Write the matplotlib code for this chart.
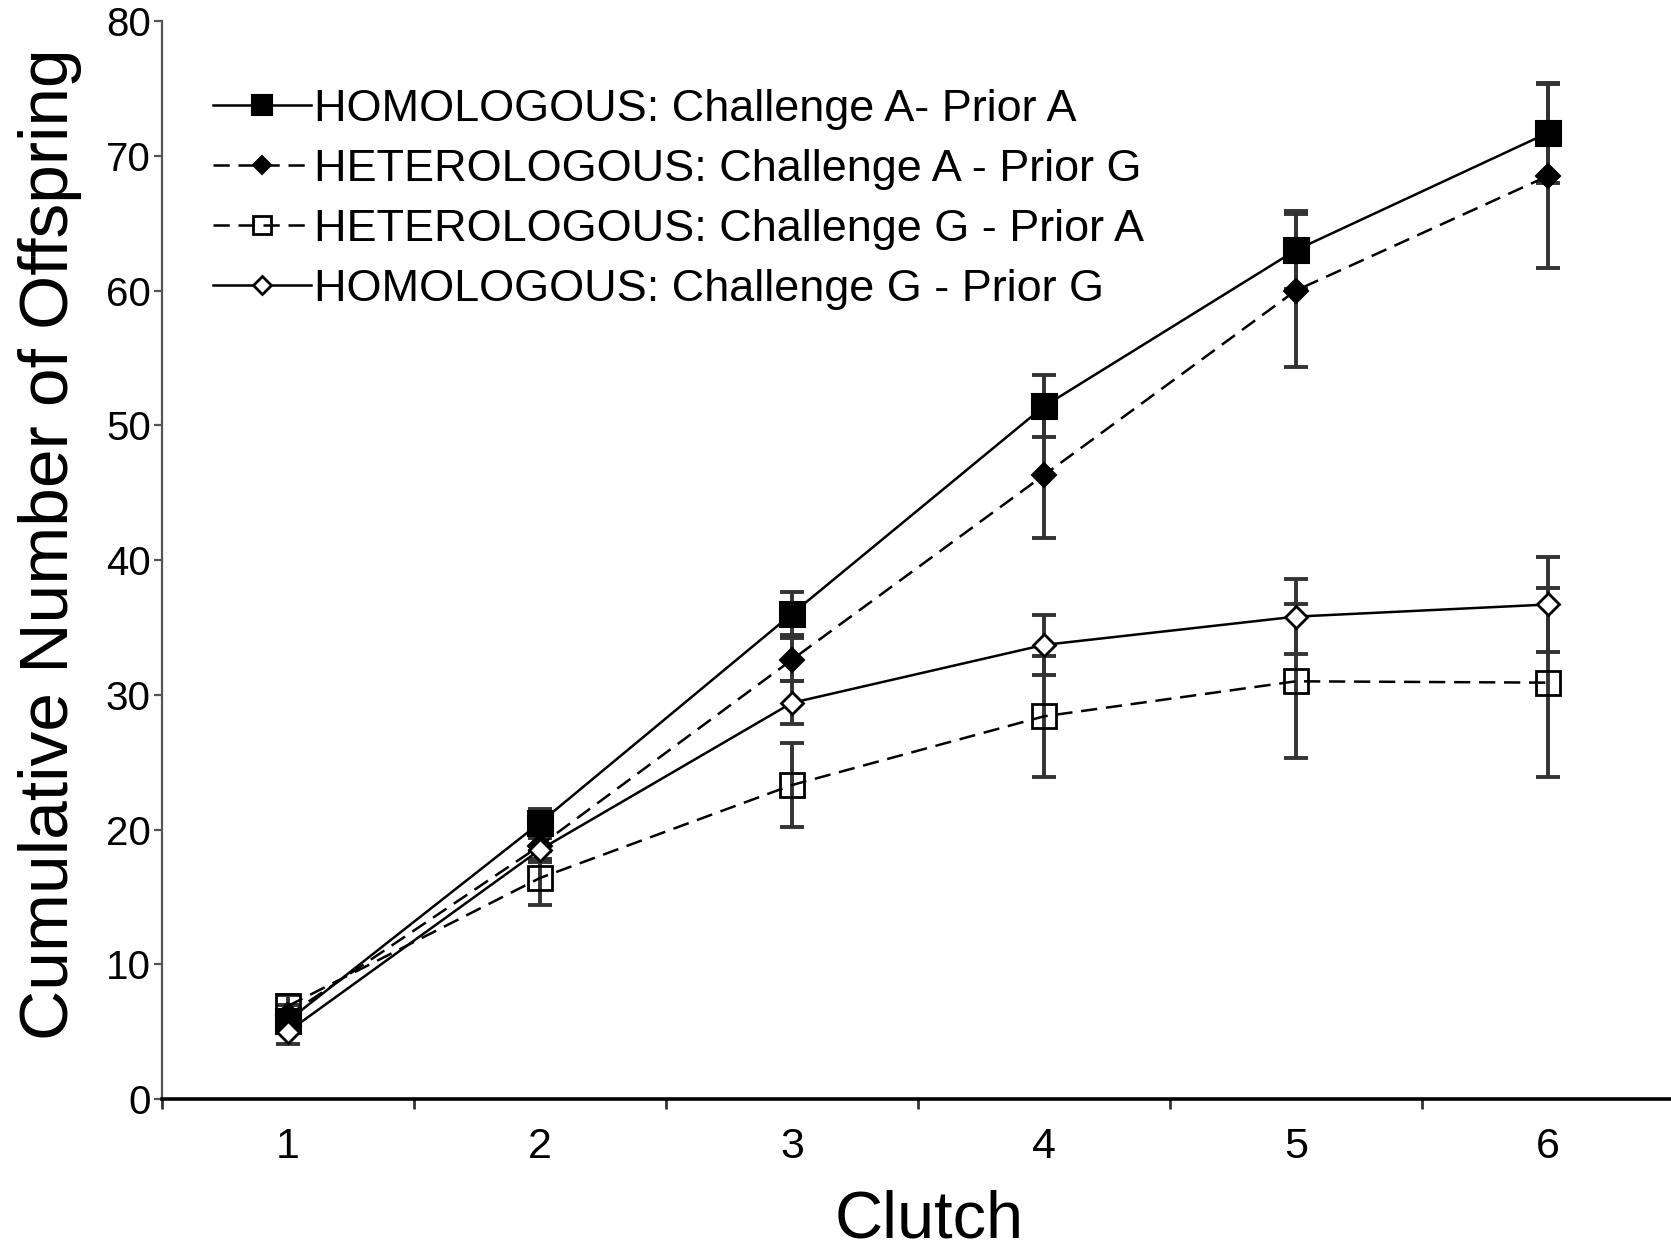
import matplotlib
matplotlib.use("Agg")
import matplotlib.pyplot as plt
from matplotlib import font_manager
from matplotlib.ticker import FixedLocator

# Clutch index and cumulative offspring (mean +/- error) per treatment
clutch = [1, 2, 3, 4, 5, 6]

homo_aa = [5.8, 20.5, 36.0, 51.4, 63.0, 71.7]
homo_aa_err = [0.8, 1.0, 1.6, 2.3, 2.9, 3.7]

hetero_ag = [6.2, 18.8, 32.6, 46.3, 60.0, 68.5]
hetero_ag_err = [0.8, 1.0, 1.6, 4.7, 5.7, 6.8]

hetero_ga = [6.9, 16.4, 23.3, 28.4, 31.0, 30.9]
hetero_ga_err = [0.8, 2.0, 3.1, 4.5, 5.7, 7.0]

homo_gg = [5.0, 18.5, 29.4, 33.7, 35.8, 36.7]
homo_gg_err = [0.9, 0.9, 1.6, 2.2, 2.8, 3.5]

series_labels = [
    "HOMOLOGOUS: Challenge A- Prior A",
    "HETEROLOGOUS: Challenge A - Prior G",
    "HETEROLOGOUS: Challenge G - Prior A",
    "HOMOLOGOUS: Challenge G - Prior G",
]
y_ticks = [0, 10, 20, 30, 40, 50, 60, 70, 80]
x_label = "Clutch"
y_label = "Cumulative Number of Offspring"

installed = {f.name for f in font_manager.fontManager.ttflist}
base_font = "Liberation Sans" if "Liberation Sans" in installed else "DejaVu Sans"
narrow_font = "Liberation Sans Narrow" if "Liberation Sans Narrow" in installed else None
plt.rcParams["font.family"] = [base_font, "DejaVu Sans"]

fig = plt.figure(figsize=(16.71, 12.53), dpi=100)
ax = fig.add_axes([0.0969, 0.1229, 0.9048, 0.8603])

dash = (0, (6.5, 3.5))
err_color = "#333333"
series = [
    (homo_aa, homo_aa_err, dict(ls="-", marker="s", ms=18, mfc="black", mec="black", mew=1.5)),
    (hetero_ag, hetero_ag_err, dict(ls=dash, marker="D", ms=12, mfc="black", mec="black", mew=1.5)),
    (hetero_ga, hetero_ga_err, dict(ls=dash, marker="s", ms=17, mfc="none", mec="black", mew=2.0)),
    (homo_gg, homo_gg_err, dict(ls="-", marker="D", ms=11.5, mfc="white", mec="black", mew=2.0)),
]

handles = []
for (vals, errs, style), lab in zip(series, series_labels):
    ax.errorbar(clutch, vals, yerr=errs, fmt="none", ecolor=err_color,
                elinewidth=2.8, capsize=8.5, capthick=2.8, zorder=2)
    h, = ax.plot(clutch, vals, color="black", lw=1.8, label=lab, zorder=3, **style)
    handles.append(h)

ax.set_xlim(0.5, 6.5)
ax.set_ylim(0, 80)

ax.xaxis.set_major_locator(FixedLocator(clutch))
ax.xaxis.set_minor_locator(FixedLocator([0.5, 1.5, 2.5, 3.5, 4.5, 5.5, 6.5]))
ax.yaxis.set_major_locator(FixedLocator(y_ticks))
ax.tick_params(axis="x", which="major", length=0, pad=20, labelsize=31)
ax.tick_params(axis="x", which="minor", length=7, width=2.0, color="#333333", direction="out")
ax.tick_params(axis="y", which="major", length=6, width=1.6, color="#555555",
               direction="out", pad=2, labelsize=29)

for side in ("top", "right"):
    ax.spines[side].set_visible(False)
ax.spines["bottom"].set_linewidth(2.6)
ax.spines["bottom"].set_color("black")
ax.spines["left"].set_linewidth(1.6)
ax.spines["left"].set_color("#555555")

if narrow_font:
    ax.text(-0.074, 0.515, y_label, transform=ax.transAxes, rotation=90,
            ha="center", va="center", fontsize=58, family=[narrow_font, base_font])
else:
    ax.text(-0.074, 0.515, y_label, transform=ax.transAxes, rotation=90,
            ha="center", va="center", fontsize=50)

fig.text(929 / 1671, 2 / 1253, x_label, ha="center", va="bottom", fontsize=48)

ax.legend(handles=handles, loc="upper left", bbox_to_anchor=(0.034, 0.937),
          frameon=False, fontsize=32.4, handlelength=2.16, handletextpad=0.08,
          labelspacing=0.42, borderpad=0, borderaxespad=0, markerscale=0.8)

fig.savefig("out.png", dpi=100)
